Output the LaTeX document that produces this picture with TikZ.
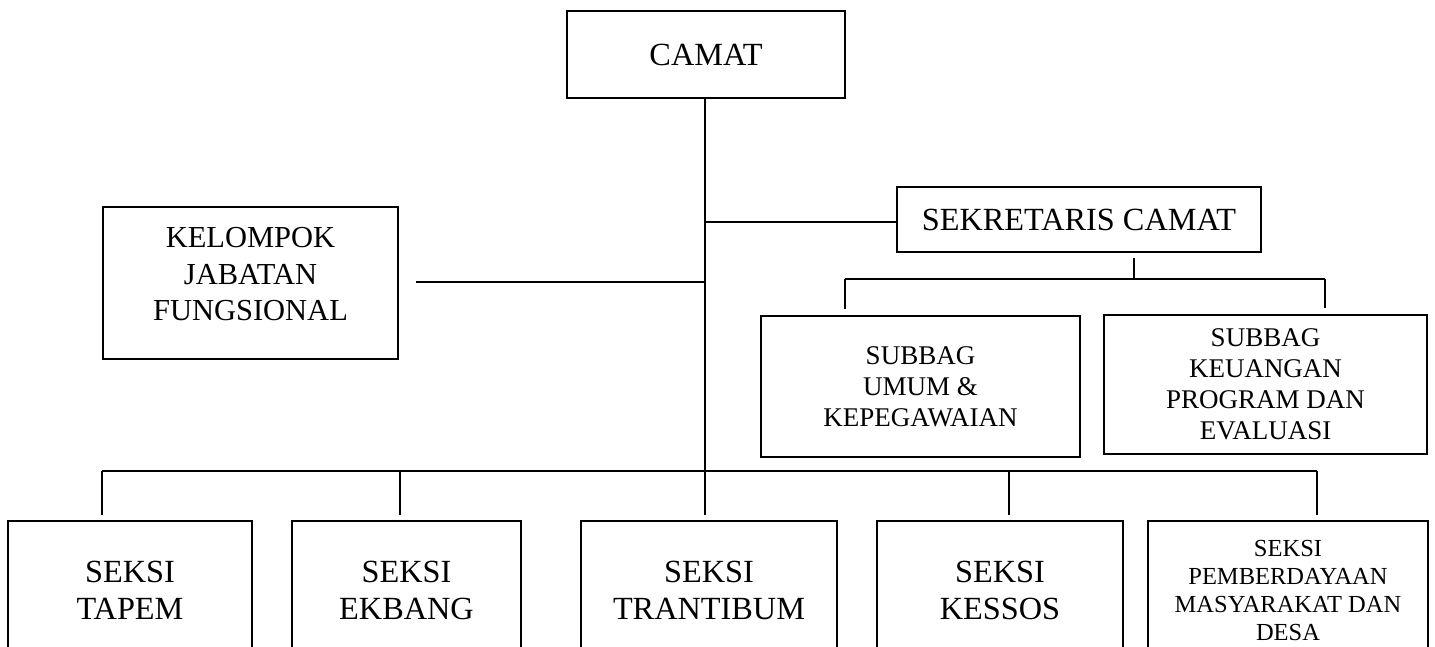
\documentclass[tikz,border=0pt]{standalone}
\usepackage{fontspec}
\setmainfont{Liberation Serif}
\begin{document}
\begin{tikzpicture}[x=1pt,y=-1pt,
  box/.style={draw, line width=1.6pt, inner sep=0pt, align=center},
  big/.style={font=\fontsize{32.3}{37}\selectfont},
  mid/.style={font=\fontsize{27}{31}\selectfont},
  conn/.style={line width=1.6pt}]
\useasboundingbox (0,0) rectangle (1435,646);
\clip (0,0) rectangle (1435,646);
% boxes
\node[box,big,minimum width=278pt,minimum height=87pt] (camat) at (706,54.5) {CAMAT};
\node[box,big,minimum width=364pt,minimum height=65pt] (sek) at (1079,219.5) {SEKRETARIS CAMAT};
\node[box,font=\fontsize{30.5}{36.7}\selectfont,minimum width=295pt,minimum height=152pt] (kel) at (250.5,283) {KELOMPOK\\JABATAN\\FUNGSIONAL\\[-19pt]};
\node[box,mid,minimum width=319pt,minimum height=141pt] (umum) at (920.5,386.5) {SUBBAG\\UMUM \&\\KEPEGAWAIAN};
\node[box,mid,minimum width=323pt,minimum height=139pt] (keu) at (1265.5,384.5) {SUBBAG\\KEUANGAN\\PROGRAM DAN\\EVALUASI};
\node[box,big,minimum width=244pt,minimum height=138pt] (tapem) at (130,590) {SEKSI\\TAPEM};
\node[box,big,minimum width=229pt,minimum height=138pt] (ekbang) at (406.5,590) {SEKSI\\EKBANG};
\node[box,big,minimum width=256pt,minimum height=138pt] (trantibum) at (709,590) {SEKSI\\TRANTIBUM};
\node[box,big,minimum width=246pt,minimum height=138pt] (kessos) at (1000,590) {SEKSI\\KESSOS};
\node[box,font=\fontsize{24.5}{28}\selectfont,minimum width=280pt,minimum height=138pt] (pmd) at (1288,590) {SEKSI\\PEMBERDAYAAN\\MASYARAKAT DAN\\DESA};
% junction coordinates
\coordinate (sekj) at (705,222);
\coordinate (kelj) at (705,282);
\coordinate (sd) at (1134,279);
\coordinate (sL) at (845,279);
\coordinate (sR) at (1325,279);
\coordinate (bL) at (102,471);
\coordinate (b2) at (400,471);
\coordinate (b3) at (705,471);
\coordinate (b4) at (1009,471);
\coordinate (bR) at (1317,471);
% connectors
\draw[conn,shorten >=5pt] (camat.south -| b3) -- (b3 |- trantibum.north);
\draw[conn] (sekj) -- (sekj -| sek.west);
\draw[conn,shorten <=17pt] (kelj -| kel.east) -- (kelj);
\draw[conn,shorten <=5pt] (sd |- sek.south) -- (sd);
\draw[conn] (sL) -- (sR);
\draw[conn,shorten >=6pt] (sL) -- (sL |- umum.north);
\draw[conn,shorten >=6pt] (sR) -- (sR |- keu.north);
\draw[conn] (bL) -- (bR);
\draw[conn,shorten >=5pt] (bL) -- (bL |- tapem.north);
\draw[conn,shorten >=5pt] (b2) -- (b2 |- ekbang.north);
\draw[conn,shorten >=5pt] (b4) -- (b4 |- kessos.north);
\draw[conn,shorten >=5pt] (bR) -- (bR |- pmd.north);
\end{tikzpicture}
\end{document}
